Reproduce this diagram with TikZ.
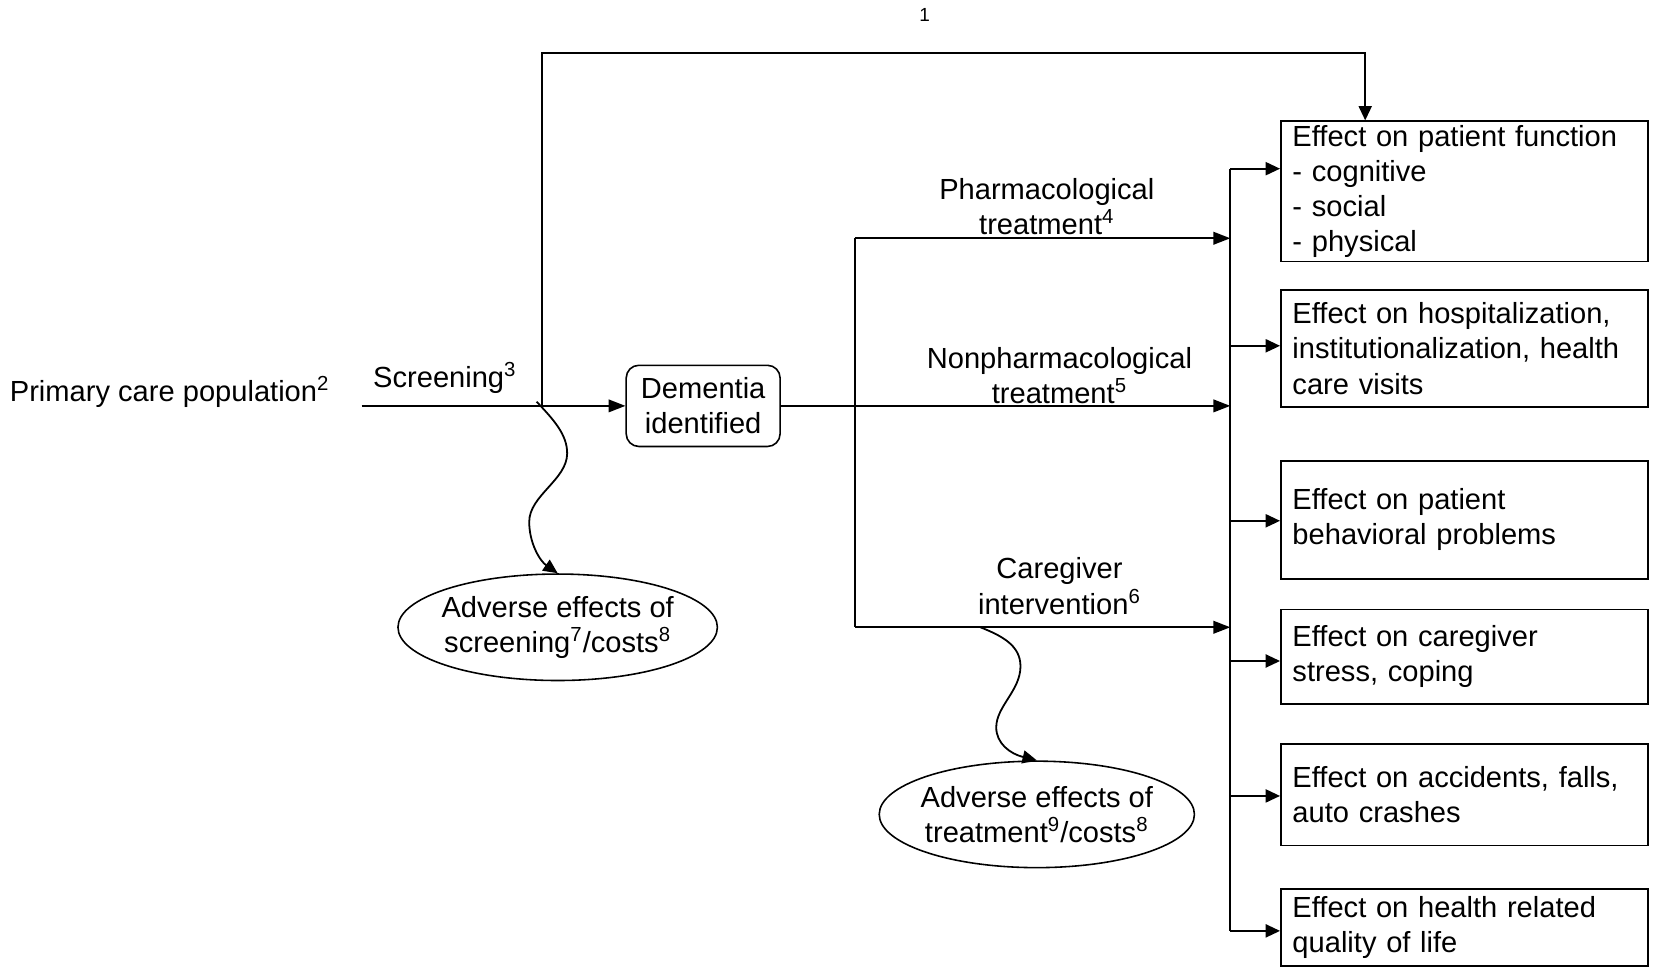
\documentclass[tikz,border=0pt]{standalone}
\usepackage{fontspec}
\setmainfont{Liberation Sans}
\usetikzlibrary{arrows.meta,shapes.geometric}
\newcommand{\dfont}{\fontsize{13.8pt}{16.7pt}\selectfont}
\newcommand{\sfnt}{\fontsize{9pt}{11pt}\selectfont}
\tikzset{
  ln/.style={line width=0.85pt},
  arr/.style={ln, -{Triangle[length=8pt,width=6pt]}},
  sarr/.style={ln, -{Triangle[length=6.8pt,width=6.2pt]}},
  outbox/.style={draw, line width=0.8pt, minimum width=174pt, text width=163pt,
    align=left, inner xsep=5.5pt, inner ysep=1pt, font=\dfont},
  lbl/.style={align=center, font=\dfont, inner sep=0pt},
  ell/.style={draw, ellipse, line width=0.75pt, inner sep=0pt},
  dem/.style={draw, rounded corners=6pt, line width=0.75pt, align=center, font=\dfont,
    minimum width=73pt, minimum height=38.5pt, inner sep=0pt}
}
\begin{document}
\begin{tikzpicture}[x=0.5pt,y=-0.5pt]
\useasboundingbox (0,0) rectangle (1568,918);
% outcome boxes
\node[outbox, minimum height=66.5pt] (o1) at (1389,181.5) {Effect on patient function\\- cognitive\\- social\\- physical};
\node[outbox, minimum height=55.5pt] (o2) at (1389,330.5) {Effect on hospitalization, institutionalization, health care visits};
\node[outbox, minimum height=56pt] (o3) at (1389,493) {Effect on patient\\behavioral problems};
\node[outbox, minimum height=45pt] (o4) at (1389,623) {Effect on caregiver\\stress, coping};
\node[outbox, minimum height=48pt] (o5) at (1389,754) {Effect on accidents, falls,\\auto crashes};
\node[outbox, minimum height=36.5pt] (o6) at (1389,879.5) {Effect on health related\\quality of life};
% left part
\node[lbl, anchor=east] (pop) at (313,372) {Primary care population\textsuperscript{2}};
\node[lbl] (scr) at (422,358) {Screening\textsuperscript{3}};
\node[dem] (dm) at (667,385) {Dementia\\identified};
\node[lbl, font=\sfnt] (one) at (877,14) {1};
\node[ell, minimum width=151.5pt, minimum height=50.5pt] (ae1) at (529,595) {};
\node[lbl] (ae1t) at (ae1.center) {Adverse effects of\\screening\textsuperscript{7}/costs\textsuperscript{8}};
\node[ell, minimum width=149.5pt, minimum height=50.5pt] (ae2) at (983.5,772.5) {};
\node[lbl] (ae2t) at (ae2.center) {Adverse effects of\\treatment\textsuperscript{9}/costs\textsuperscript{8}};
% treatment labels
\node[lbl] (ph) at (993,196) {Pharmacological\\treatment\textsuperscript{4}};
\node[lbl] (np) at (1005,356) {Nonpharmacological\\treatment\textsuperscript{5}};
\node[lbl] (cg) at (1005,556) {Caregiver\\intervention\textsuperscript{6}};
% coordinates
\coordinate (s0) at (343,385);
\coordinate (sp) at (514,385);
\coordinate (tp) at (1295,50);
\coordinate (b1) at (811,226);
\coordinate (b3) at (811,595);
\coordinate (k1) at (1167,226);
\coordinate (k2) at (1167,385);
\coordinate (k3) at (1167,595);
\coordinate (c1) at (1167,160);
\coordinate (c2) at (1167,328);
\coordinate (c3) at (1167,494);
\coordinate (c4) at (1167,627);
\coordinate (c5) at (1167,755);
\coordinate (c6) at (1167,883);
\coordinate (w1) at (509,381);
\coordinate (w2) at (930,595);
% connectors
\draw[arr] (s0) -- (dm.west);
\draw[sarr] (sp) |- (tp) -- (tp |- o1.north);
\draw[arr] (dm.east) -- (k2);
\draw[ln] (b1) -- (b3);
\draw[arr] (b1) -- (k1);
\draw[arr] (b3) -- (k3);
\draw[ln] (c1) -- (c6);
\foreach \i in {1,...,6} { \draw[sarr] (c\i) -- (c\i -| o\i.west); }
\draw[sarr] (w1) .. controls (525,398) and (538,412) .. (538,430)
  .. controls (538,455) and (502,470) .. (502,495)
  .. controls (502,515) and (512,532) .. (ae1.north);
\draw[sarr] (w2) .. controls (950,603) and (968,612) .. (968,632)
  .. controls (968,655) and (945,670) .. (945,690)
  .. controls (945,705) and (958,715) .. (ae2.north);
\end{tikzpicture}
\end{document}
